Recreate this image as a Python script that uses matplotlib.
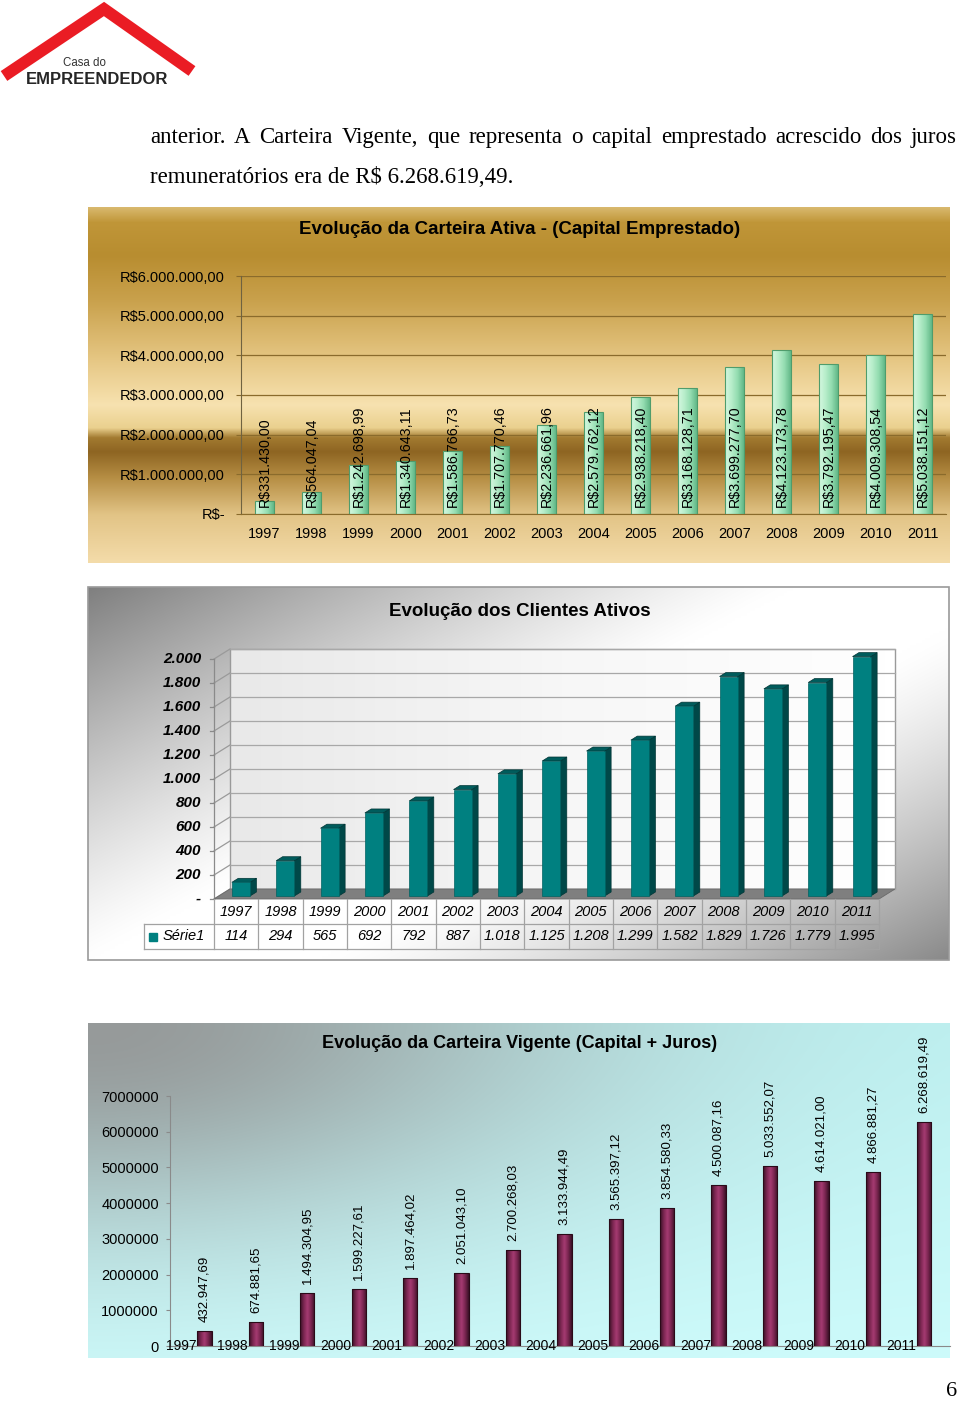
import numpy as np
import matplotlib
matplotlib.use('Agg')
import matplotlib.pyplot as plt
from matplotlib.patches import Polygon, Rectangle
from matplotlib.colors import LinearSegmentedColormap, to_rgb
from matplotlib.lines import Line2D

# ---------------- data ----------------
years = ['1997', '1998', '1999', '2000', '2001', '2002', '2003', '2004',
         '2005', '2006', '2007', '2008', '2009', '2010', '2011']
carteira_ativa = [331430.00, 564047.04, 1242698.99, 1340643.11, 1586766.73,
                  1707770.46, 2236661.96, 2579762.12, 2938218.40, 3168128.71,
                  3699277.70, 4123173.78, 3792195.47, 4009308.54, 5038151.12]
clientes = [114, 294, 565, 692, 792, 887, 1018, 1125, 1208, 1299,
            1582, 1829, 1726, 1779, 1995]
carteira_vigente = [432947.69, 674881.65, 1494304.95, 1599227.61, 1897464.02,
                    2051043.10, 2700268.03, 3133944.49, 3565397.12, 3854580.33,
                    4500087.16, 5033552.07, 4614021.00, 4866881.27, 6268619.49]
ativa_ticks = [0, 1e6, 2e6, 3e6, 4e6, 5e6, 6e6]
clientes_ticks = [0, 200, 400, 600, 800, 1000, 1200, 1400, 1600, 1800, 2000]
vigente_ticks = [0, 1e6, 2e6, 3e6, 4e6, 5e6, 6e6, 7e6]

title1 = 'Evolução da Carteira Ativa - (Capital Emprestado)'
title2 = 'Evolução dos Clientes Ativos'
title3 = 'Evolução da Carteira Vigente (Capital + Juros)'
series_name = 'Série1'
para1 = 'anterior. A Carteira Vigente, que representa o capital emprestado acrescido dos juros'
para2 = 'remuneratórios era de R$ 6.268.619,49.'


def br(v, dec=2):
    s = f'{v:,.{dec}f}'
    return s.replace(',', '#').replace('.', ',').replace('#', '.')


SANS = 'Liberation Sans'
SERIF = 'Liberation Serif'
W, H = 960, 1401
fig = plt.figure(figsize=(W / 100, H / 100), dpi=100)
fig.patch.set_facecolor('white')


def px_axes(x0, y0, x1, y1, z=2):
    a = fig.add_axes([x0 / W, 1 - y1 / H, (x1 - x0) / W, (y1 - y0) / H])
    a.set_zorder(z)
    a.patch.set_alpha(0)
    return a


# ---------- decoration layer (pixel coordinates) ----------
deco = fig.add_axes([0, 0, 1, 1])
deco.set_zorder(0)
deco.set_xlim(0, W)
deco.set_ylim(H, 0)
deco.axis('off')

# logo
deco.add_line(Line2D([4, 104, 192], [76, 9, 71], color='#ea1c24', lw=8.5,
                     solid_joinstyle='miter', solid_capstyle='butt'))
deco.text(84, 63, 'Casa do', fontsize=8.3, family=SANS, color='#333333',
          ha='center', va='center')
deco.text(97, 80, 'EMPREENDEDOR', fontsize=12, family=SANS, weight='bold',
          color='#262626', ha='center', va='center')

# chart 1 background (gold gradient)
stops_y = [207, 222, 255, 300, 360, 405, 428, 438, 452, 478, 515, 563]
stops_c = ['#d9b96e', '#c09638', '#b88d30', '#c9a14c', '#e6c784', '#f7e2b0',
           '#ead08e', '#a27a30', '#8e6522', '#b68e44', '#e2c486', '#f4dcaa']
ys = np.arange(207, 564)
cols = np.array([to_rgb(c) for c in stops_c])
grad1 = np.stack([np.interp(ys, stops_y, cols[:, k]) for k in range(3)], axis=-1)
grad1 = np.repeat(grad1[:, None, :], 8, axis=1)
deco.imshow(grad1, extent=[88, 950, 563, 207], aspect='auto', interpolation='bilinear')

# chart 2 background (grey diagonal gradient)
gx = np.linspace(0, 1, 300)[None, :]
gy = np.linspace(0, 1, 150)[:, None]
t = gx * 0.55 + gy * 0.45
b = 1 - 0.5 * (np.clip(0.45 - t, 0, None) / 0.45) ** 1.2 \
      - 0.46 * (np.clip(t - 0.6, 0, None) / 0.4) ** 1.3
grad2 = np.stack([b, b, b], axis=-1)
deco.imshow(grad2, extent=[88, 949, 960, 587], aspect='auto', interpolation='bilinear')
deco.add_patch(Rectangle((88, 587), 861, 373, fill=False, ec='#9a9a9a', lw=1.2))

# chart 3 background (grey -> cyan)
wgt = np.exp(-((gx / 0.55) ** 2 + (gy / 0.6) ** 2))
c_top = np.array(to_rgb('#bff2f2'))
c_bot = np.array(to_rgb('#cdfbfb'))
c_gray = np.array(to_rgb('#969a9a'))
cy = c_top[None, None, :] * (1 - gy[..., None]) + c_bot[None, None, :] * gy[..., None]
grad3 = cy * (1 - wgt[..., None]) + c_gray[None, None, :] * wgt[..., None]
deco.imshow(np.clip(grad3, 0, 1), extent=[88, 950, 1358, 1023], aspect='auto',
            interpolation='bilinear')

# paragraph text (justified first line)
renderer = fig.canvas.get_renderer()


def justified(text, x0, x1, ybase, **kw):
    words = text.split()
    objs, widths = [], []
    for wd in words:
        tt = deco.text(0, ybase, wd, ha='left', va='baseline', **kw)
        widths.append(tt.get_window_extent(renderer=renderer).width)
        objs.append(tt)
    gap = (x1 - x0 - sum(widths)) / (len(words) - 1)
    x = x0
    for tt, wd in zip(objs, widths):
        tt.set_x(x)
        x += wd + gap


justified(para1, 150, 957, 143, fontsize=16.5, family=SERIF, color='black')
deco.text(150, 183, para2, ha='left', va='baseline', fontsize=16.5, family=SERIF,
          color='black')
deco.text(952, 1391, '6', ha='center', va='center', fontsize=16, family=SERIF)

# titles
for ty, tt, fs in [(229, title1, 13.5), (611, title2, 13.5), (1044, title3, 13)]:
    deco.text(519.5, ty, tt, ha='center', va='center', fontsize=fs, family=SANS,
              weight='bold', color='black')

x = np.arange(len(years))

# ---------------- chart 1 ----------------
ax1 = px_axes(241, 276, 946, 514)
grid_c = '#8a6b2c'
bars1 = ax1.bar(x, carteira_ativa, width=0.4, color='none', edgecolor='#4f9c6c',
                lw=0.8, zorder=3)
cm1 = LinearSegmentedColormap.from_list('g1', ['#d4f7e0', '#b8eecb', '#93dcb0', '#62b888'])
hg = np.linspace(0, 1, 64)[None, :]
for bb in bars1:
    im = ax1.imshow(hg, cmap=cm1, extent=[bb.get_x(), bb.get_x() + bb.get_width(),
                                          0, bb.get_height()],
                    aspect='auto', zorder=2, interpolation='bilinear')
    im.set_clip_path(bb)
for i, v in enumerate(carteira_ativa):
    ax1.annotate('R$' + br(v), xy=(i, 0), xytext=(0, 7), textcoords='offset pixels',
                 rotation=90, ha='center', va='bottom', fontsize=10.3, family=SANS,
                 color='black', zorder=4)
ax1.set_xlim(-0.5, len(years) - 0.5)
ax1.set_ylim(0, 6e6)
ax1.set_yticks(ativa_ticks)
ax1.set_yticklabels(['R$-' if v == 0 else 'R$' + br(v) for v in ativa_ticks],
                    fontsize=10.5, family=SANS)
ax1.set_xticks(x)
ax1.set_xticklabels(years, fontsize=10.5, family=SANS)
ax1.tick_params(axis='x', length=0, pad=9)
ax1.tick_params(axis='y', length=3.6, pad=8, color=grid_c)
ax1.grid(axis='y', color=grid_c, lw=0.9)
ax1.set_axisbelow(True)
for s in ['top', 'right']:
    ax1.spines[s].set_visible(False)
ax1.spines['left'].set_color('#6f6240')
ax1.spines['bottom'].set_color(grid_c)

# ---------------- chart 2 (3D style) ----------------
ax2 = px_axes(214, 659, 879, 899)
ax2.set_xlim(-0.5, len(years) - 0.5)
ax2.set_ylim(0, 2000)
ax2.axis('off')
px_cat = (879 - 214) / len(years)
px_val = (899 - 659) / 2000
ddx, ddy = 16 / px_cat, 10 / px_val
xl, xr = -0.5, len(years) - 0.5
top = clientes_ticks[-1]
# back wall
wall = np.linspace(0, 1, 64)[None, :]
cmw = LinearSegmentedColormap.from_list('w', ['#e9e9e9', '#f7f7f7', '#ffffff'])
ax2.imshow(wall, cmap=cmw, extent=[xl + ddx, xr + ddx, ddy, top + ddy], aspect='auto',
           zorder=0, clip_on=False)
ax2.add_patch(Rectangle((xl + ddx, ddy), xr - xl, top, fill=False, ec='#9a9a9a',
                        lw=1, zorder=1, clip_on=False))
for v in clientes_ticks:
    ax2.plot([xl + ddx, xr + ddx], [v + ddy, v + ddy], color='#a8a8a8', lw=0.9,
             zorder=1, clip_on=False)
    ax2.plot([xl, xl + ddx], [v, v + ddy], color='#9a9a9a', lw=0.9, zorder=1,
             clip_on=False)
    ax2.plot([xl - 0.09, xl], [v, v], color='#8a8a8a', lw=0.9, zorder=1, clip_on=False)
    lab = '-' if v == 0 else br(v, 0)
    ax2.annotate(lab, xy=(xl, v), xytext=(-13, 0), textcoords='offset pixels',
                 ha='right', va='center', fontsize=11, family=SANS, weight='bold',
                 style='italic', color='black', annotation_clip=False)
ax2.plot([xl, xl], [0, top], color='#8a8a8a', lw=0.9, zorder=1, clip_on=False)
# floor
ax2.add_patch(Polygon([(xl, 0), (xr, 0), (xr + ddx, ddy), (xl + ddx, ddy)],
                      closed=True, fc='#7f7f7f', ec='#6a6a6a', lw=0.6, zorder=2,
                      clip_on=False))
# bars
f0, f1 = 0.3, 0.7
bw = 0.41
for i, v in enumerate(clientes):
    xa = i - bw / 2 + f0 * ddx
    xb = i + bw / 2 + f0 * ddx
    y0 = f0 * ddy
    sdx, sdy = (f1 - f0) * ddx, (f1 - f0) * ddy
    ax2.add_patch(Polygon([(xb, y0), (xb + sdx, y0 + sdy), (xb + sdx, v + y0 + sdy),
                           (xb, v + y0)], closed=True, fc='#004848', ec='#003535',
                          lw=0.5, zorder=3, clip_on=False))
    ax2.add_patch(Polygon([(xa, v + y0), (xb, v + y0), (xb + sdx, v + y0 + sdy),
                           (xa + sdx, v + y0 + sdy)], closed=True, fc='#005c5c',
                          ec='#003535', lw=0.5, zorder=3, clip_on=False))
bars2 = ax2.bar(x + f0 * ddx, clientes, width=bw, bottom=f0 * ddy, color='#008080',
                edgecolor='#006262', lw=0.5, zorder=4, clip_on=False)
# data table
rh = 25 / px_val
leg_l = xl - 70 / px_cat
tc = '#a2a2a2'
ax2.plot([leg_l, xr], [-rh, -rh], color=tc, lw=0.9, clip_on=False)
ax2.plot([leg_l, xr], [-2 * rh, -2 * rh], color=tc, lw=0.9, clip_on=False)
ax2.plot([leg_l, leg_l], [-rh, -2 * rh], color=tc, lw=0.9, clip_on=False)
for k in range(len(years) + 1):
    ax2.plot([xl + k, xl + k], [0, -2 * rh], color=tc, lw=0.9, clip_on=False)
for i in range(len(years)):
    ax2.text(i, -0.5 * rh, years[i], ha='center', va='center', fontsize=10.5,
             family=SANS, style='italic', clip_on=False)
    ax2.text(i, -1.5 * rh, br(clientes[i], 0), ha='center', va='center',
             fontsize=10.5, family=SANS, style='italic', clip_on=False)
ax2.plot([leg_l + 9 / px_cat], [-1.5 * rh], marker='s', ms=6, color='#008080',
         clip_on=False)
ax2.text(leg_l + 19 / px_cat, -1.5 * rh, series_name, ha='left', va='center',
         fontsize=10.5, family=SANS, style='italic', clip_on=False)

# ---------------- chart 3 ----------------
ax3 = px_axes(170, 1096, 950, 1346)
bars3 = ax3.bar(x, carteira_vigente, width=0.28, color='none', edgecolor='#2a0a18',
                lw=0.8, zorder=3)
cm3 = LinearSegmentedColormap.from_list('m3', ['#3a1026', '#7a2650', '#a53b72',
                                               '#7a2650', '#3a1026'])
for bb in bars3:
    im = ax3.imshow(hg, cmap=cm3, extent=[bb.get_x(), bb.get_x() + bb.get_width(),
                                          0, bb.get_height()],
                    aspect='auto', zorder=2, interpolation='bilinear')
    im.set_clip_path(bb)
for i, v in enumerate(carteira_vigente):
    ax3.annotate(br(v), xy=(i, v), xytext=(0, 9), textcoords='offset pixels',
                 rotation=90, ha='center', va='bottom', fontsize=9.5, family=SANS,
                 color='black', annotation_clip=False)
for i, yr in enumerate(years):
    ax3.text(i - 0.45, 0, yr, transform=ax3.get_xaxis_transform(), ha='center',
             va='center', fontsize=10, family=SANS, zorder=4)
ax3.set_xlim(-0.67, len(years) - 0.5)
ax3.set_ylim(0, 7e6)
ax3.set_yticks(vigente_ticks)
ax3.set_yticklabels([str(int(v)) for v in vigente_ticks], fontsize=10.5, family=SANS)
ax3.set_xticks([])
ax3.tick_params(axis='y', length=3, pad=5, color='#8a8a8a')
for s in ['top', 'right']:
    ax3.spines[s].set_visible(False)
ax3.spines['left'].set_color('#8a8a8a')
ax3.spines['bottom'].set_color('#8a8a8a')

fig.savefig('out.png', dpi=100)
